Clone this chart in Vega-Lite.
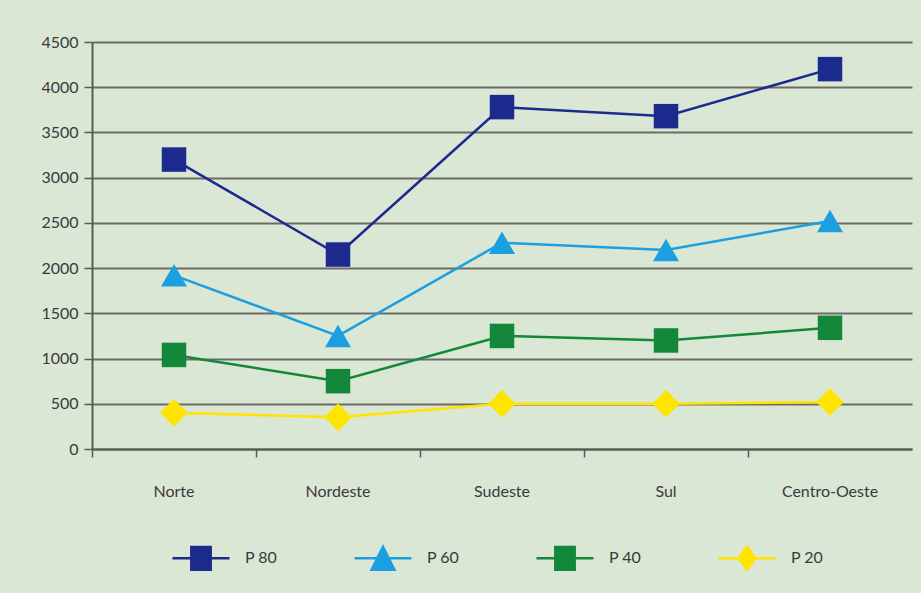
{
  "$schema": "https://vega.github.io/schema/vega-lite/v6.json",
  "autosize": {"type": "none"},
  "padding": {"left": 92, "top": 42, "right": 9, "bottom": 144},
  "width": 820,
  "height": 407,
  "background": "#dae7d5",
  "config": {
    "view": {"stroke": null},
    "font": "Lato",
    "axis": {"labelFont": "Lato", "labelFontSize": 16, "labelColor": "#3a3a3a", "domainColor": "#5a5a55", "domainWidth": 2, "tickColor": "#5a5a55", "tickWidth": 1.5}
  },
  "data": {
    "values": [
      {"region": "Norte", "series": "P 80", "value": 3200},
      {"region": "Nordeste", "series": "P 80", "value": 2150},
      {"region": "Sudeste", "series": "P 80", "value": 3780},
      {"region": "Sul", "series": "P 80", "value": 3680},
      {"region": "Centro-Oeste", "series": "P 80", "value": 4200},
      {"region": "Norte", "series": "P 60", "value": 1920},
      {"region": "Nordeste", "series": "P 60", "value": 1250},
      {"region": "Sudeste", "series": "P 60", "value": 2280},
      {"region": "Sul", "series": "P 60", "value": 2200},
      {"region": "Centro-Oeste", "series": "P 60", "value": 2520},
      {"region": "Norte", "series": "P 40", "value": 1040},
      {"region": "Nordeste", "series": "P 40", "value": 750},
      {"region": "Sudeste", "series": "P 40", "value": 1250},
      {"region": "Sul", "series": "P 40", "value": 1200},
      {"region": "Centro-Oeste", "series": "P 40", "value": 1340},
      {"region": "Norte", "series": "P 20", "value": 400},
      {"region": "Nordeste", "series": "P 20", "value": 350},
      {"region": "Sudeste", "series": "P 20", "value": 500},
      {"region": "Sul", "series": "P 20", "value": 500},
      {"region": "Centro-Oeste", "series": "P 20", "value": 520}
    ]
  },
  "encoding": {
    "x": {
      "field": "region", "type": "nominal", "sort": null,
      "scale": {"type": "band", "paddingInner": 0, "paddingOuter": 0, "domain": ["Norte", "Nordeste", "Sudeste", "Sul", "Centro-Oeste"]},
      "axis": {"title": null, "labelAngle": 0, "grid": false, "bandPosition": 0, "tickSize": 8, "labelPadding": 26}
    },
    "y": {
      "field": "value", "type": "quantitative",
      "scale": {"domain": [0, 4500], "nice": false},
      "axis": {"title": null, "values": [0, 500, 1000, 1500, 2000, 2500, 3000, 3500, 4000, 4500], "grid": true, "gridColor": "#6c6c64", "gridWidth": 2, "gridOpacity": 1, "tickSize": 8, "labelPadding": 6, "format": "d"}
    },
    "color": {
      "field": "series", "type": "nominal",
      "scale": {"domain": ["P 80", "P 60", "P 40", "P 20"], "range": ["#1b2a8c", "#1c9fe0", "#13883a", "#ffe400"]},
      "legend": {
        "orient": "none", "legendX": 79, "legendY": 486, "direction": "horizontal", "columns": 4, "title": null,
        "symbolSize": 3249, "symbolStrokeWidth": 2.5, "labelOffset": 14, "columnPadding": 71,
        "symbolOpacity": 1,
        "symbolType": {"expr": "(datum.value === 'P 80' || datum.value === 'P 40') ? 'M-1,0H1M-0.34,-0.4H0.34V0.4H-0.34Z' : (datum.value === 'P 60' ? 'M-1,0H1M0,-0.4L0.4,0.4H-0.4Z' : 'M-1,0H1M0,-0.4L0.3,0L0,0.4L-0.3,0Z')"},
        "symbolFillColor": {"expr": "scale('color', datum.value)"},
        "symbolStrokeColor": {"expr": "scale('color', datum.value)"},
        "labelFont": "Lato", "labelFontSize": 16, "labelColor": "#3a3a3a"
      }
    }
  },
  "layer": [
    {
      "mark": {"type": "line", "strokeWidth": 2.5},
      "encoding": {"detail": {"field": "series"}}
    },
    {
      "transform": [{"filter": "datum.series === 'P 80' || datum.series === 'P 40'"}],
      "mark": {"type": "point", "filled": true, "opacity": 1, "shape": "square", "size": 600}
    },
    {
      "transform": [{"filter": "datum.series === 'P 60'"}],
      "mark": {"type": "point", "filled": true, "opacity": 1, "shape": "triangle-up", "size": 676}
    },
    {
      "transform": [{"filter": "datum.series === 'P 20'"}],
      "mark": {"type": "point", "filled": true, "opacity": 1, "shape": "diamond", "size": 760}
    }
  ]
}
